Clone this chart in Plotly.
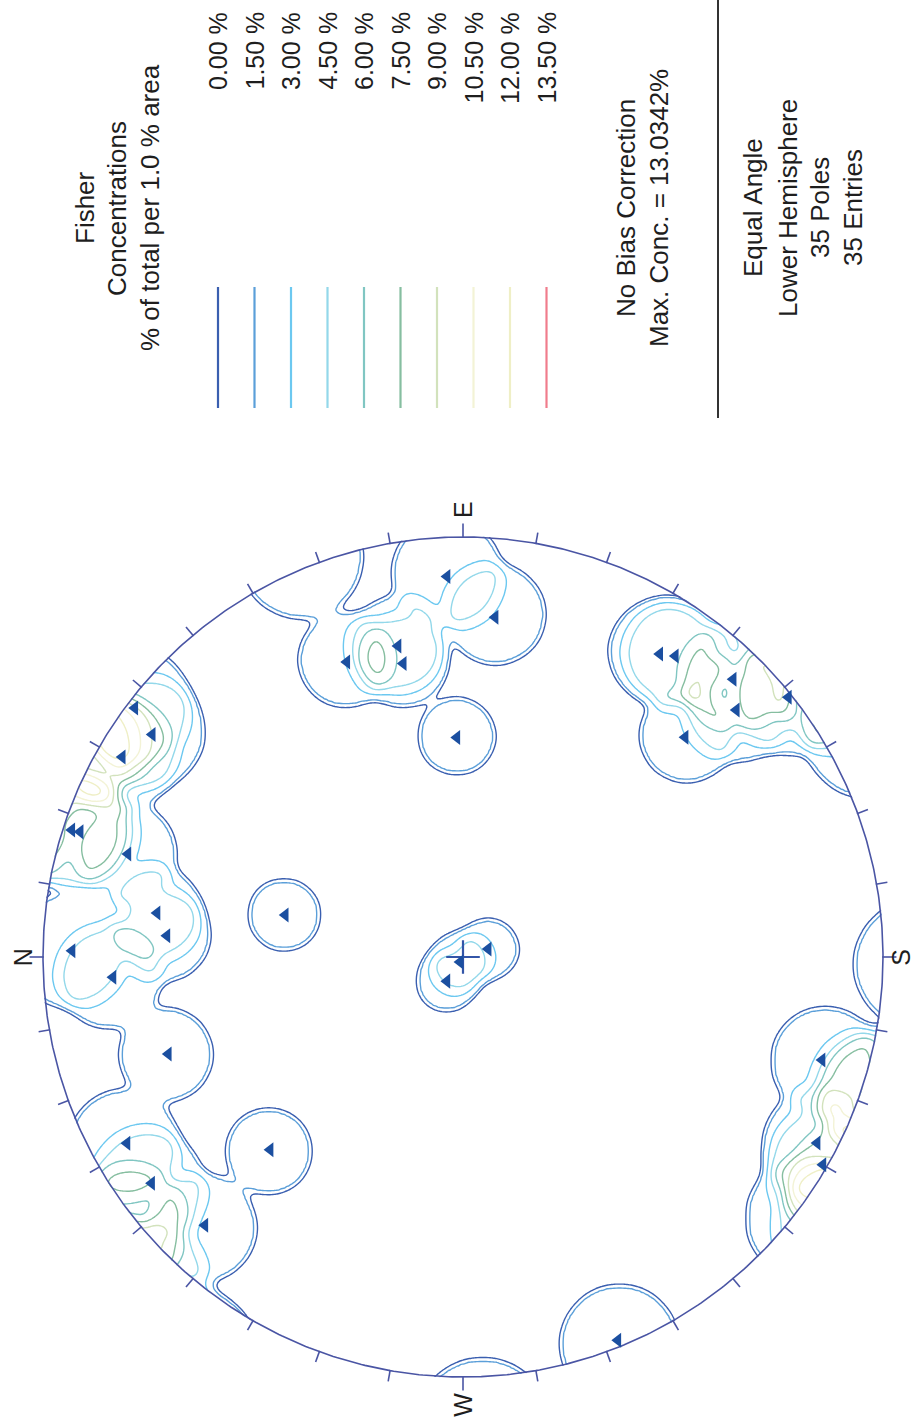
import numpy as np
import plotly.graph_objects as go

# ---------------------------------------------------------------------------
# Pole data (trend / plunge, degrees) - 35 poles, lower hemisphere
# ---------------------------------------------------------------------------
pole_trend = [87.6, 95.4, 78.2, 68.5, 78.5, 88.4, 37.2, 35.6, 30.4, 18.0,
              18.1, 17.1, 8.2, 4.1, 0.9, 13.3, 356.7, 341.8, 331.0, 324.0,
              313.9, 315.0, 303.7, 162.4, 300.0, 123.0, 125.2, 134.2, 137.9, 135.3,
              141.4, 196.0, 207.7, 210.0, 248.0]
pole_plunge = [5.6, 11.8, 15.8, 15.9, 19.0, 34.8, 1.1, 5.4, 3.5, 1.2,
               2.4, 10.3, 17.3, 19.5, 4.1, 43.0, 10.3, 17.1, 5.1, 5.0,
               6.9, 24.0, 82.1, 82.8, 88.4, 8.6, 7.5, 4.6, 7.5, 16.7,
               0.5, 6.7, 2.8, 0.6, 0.9]

MAX_CONC = 13.0342        # peak concentration, % of total per 1 % area

# Contour levels (% of total per 1.0 % area) and their line colours
levels = [0.0, 1.5, 3.0, 4.5, 6.0, 7.5, 9.0, 10.5, 12.0, 13.5]
level_labels = ["0.00 %", "1.50 %", "3.00 %", "4.50 %", "6.00 %",
                "7.50 %", "9.00 %", "10.50 %", "12.00 %", "13.50 %"]
level_colors = ["#3a5fb0", "#5b9fd9", "#6cc8f0", "#93d8ea", "#80c6c2",
                "#86bea0", "#d2e2bc", "#f3f3d6", "#efefc6", "#f07c8c"]

cardinal_labels = ["N", "E", "S", "W"]
cardinal_azimuths = [0, 90, 180, 270]

info_lines = ["No Bias Correction", "Max. Conc. = %.4f%%" % MAX_CONC]
net_lines = ["Equal Angle", "Lower Hemisphere", "%d Poles" % len(pole_trend),
             "%d Entries" % len(pole_trend)]
title_lines = ["Fisher", "Concentrations", "% of total per 1.0 % area"]

# Fisher counting settings: weights inside a 1 % area cone around every pole
KAPPA = 10.0
CONE_DEG = np.degrees(np.arccos(1.0 - 0.01))   # cone covering 1 % of the hemisphere
GRID_STEP = 0.005         # node spacing of the concentration grid (net units)
SMOOTH = 0.016            # gaussian smoothing of the grid (net units)
ZERO_LINE = 1.0           # value traced by the outermost (0.00 %) line

# Page geometry (pixels) - the net is shown turned so that north is on the left
W_PX, H_PX = 924, 1426
CX, CY, RAD = 463.0, 957.0, 420.0

INK = "#1e1e1e"
NET_COLOR = "#4a55a4"
POLE_COLOR = "#1b4fa0"
FONT = "Liberation Sans, Arial, sans-serif"


def to_net(trend, plunge):
    """Equal-angle (stereographic) lower-hemisphere projection -> (north, east)."""
    t = np.radians(np.asarray(trend, float))
    r = np.tan(np.radians(90.0 - np.asarray(plunge, float)) / 2.0)
    return r * np.cos(t), r * np.sin(t)


def to_vec(trend, plunge):
    t = np.radians(np.asarray(trend, float))
    p = np.radians(np.asarray(plunge, float))
    return np.stack([np.cos(p) * np.cos(t), np.cos(p) * np.sin(t), np.sin(p)], axis=-1)


def gauss_smooth(a, sigma_nodes):
    half = int(np.ceil(4 * sigma_nodes))
    k = np.exp(-0.5 * (np.arange(-half, half + 1) / sigma_nodes) ** 2)
    k /= k.sum()
    a = np.apply_along_axis(lambda v: np.convolve(v, k, mode="same"), 0, a)
    return np.apply_along_axis(lambda v: np.convolve(v, k, mode="same"), 1, a)


# ---------------------------------------------------------------------------
# Fisher concentration grid (% of total per 1 % of hemisphere area)
# ---------------------------------------------------------------------------
EDGE = 1.10
g = np.arange(-EDGE, EDGE + 1e-9, GRID_STEP)
GN, GE = np.meshgrid(g, g)            # rows follow east (y), columns north (x)
gr = np.hypot(GN, GE)
g_trend = np.degrees(np.arctan2(GE, GN))
g_plunge = 90.0 - 2.0 * np.degrees(np.arctan(gr))   # negative past the primitive
gv = to_vec(g_trend, g_plunge).reshape(-1, 3)

pv = to_vec(pole_trend, pole_plunge)
cosang = np.abs(gv @ pv.T)             # axial data
c0 = np.cos(np.radians(CONE_DEG))
u0 = KAPPA * (1.0 - c0)
cone_mean = (1.0 - np.exp(-u0)) / u0   # mean Fisher weight over the cone
w = np.where(cosang >= c0, np.exp(KAPPA * (cosang - 1.0)) / cone_mean, 0.0)
dens = 100.0 * w.sum(axis=1).reshape(GN.shape) / len(pole_trend)
dens = gauss_smooth(dens, SMOOTH / GRID_STEP)
dens *= MAX_CONC / dens[gr <= 1.0].max()

# uniform 1.5 % steps, with the lowest line placed at ZERO_LINE
step = levels[1] - levels[0]
z = np.where(dens >= step, dens, (dens - ZERO_LINE) / (step - ZERO_LINE) * step)
z = np.where(gr <= 1.04, z, np.nan)

fig = go.Figure()

fig.add_trace(go.Contour(
    x=g, y=g, z=z,
    contours=dict(start=levels[0], end=levels[-1], size=step, coloring="lines"),
    colorscale=[[i / (len(level_colors) - 1), c] for i, c in enumerate(level_colors)],
    line=dict(width=1.4, smoothing=0.5),
    showscale=False, connectgaps=False, hoverinfo="skip",
))

# White ring hiding the contour overshoot past the primitive
a_out = np.linspace(0, 2 * np.pi, 361)
ring_r0, ring_r1 = 1.002, 1.12
fig.add_trace(go.Scatter(
    x=np.concatenate([ring_r1 * np.cos(a_out), ring_r0 * np.cos(a_out[::-1])]),
    y=np.concatenate([ring_r1 * np.sin(a_out), ring_r0 * np.sin(a_out[::-1])]),
    mode="lines", fill="toself", fillcolor="white", line=dict(width=0),
    hoverinfo="skip",
))

# Primitive circle
az = np.linspace(0, 360, 721)
fig.add_trace(go.Scatter(
    x=np.cos(np.radians(az)), y=np.sin(np.radians(az)), mode="lines",
    line=dict(color=NET_COLOR, width=1.6), hoverinfo="skip",
))

# Azimuth ticks every 10 degrees
tx, ty = [], []
for a in range(0, 360, 10):
    ln = 1.032 if a % 90 == 0 else 1.026
    ar = np.radians(a)
    tx += [np.cos(ar) * 0.998, np.cos(ar) * ln, None]
    ty += [np.sin(ar) * 0.998, np.sin(ar) * ln, None]
fig.add_trace(go.Scatter(x=tx, y=ty, mode="lines",
                         line=dict(color=NET_COLOR, width=1.6), hoverinfo="skip"))

# Centre cross
fig.add_trace(go.Scatter(x=[0], y=[0], mode="markers",
                         marker=dict(symbol="cross-thin", size=24,
                                     line=dict(color="#3355a8", width=2.2)),
                         hoverinfo="skip"))

# Poles
pn, pe = to_net(pole_trend, pole_plunge)
fig.add_trace(go.Scatter(x=pn, y=pe, mode="markers",
                         marker=dict(symbol="triangle-left", size=13, color=POLE_COLOR,
                                     line=dict(width=0)),
                         hoverinfo="skip"))

# Cardinal labels just outside the primitive
label_offset = {0: 1.047, 90: 1.064, 180: 1.042, 270: 1.066}
for lab, a in zip(cardinal_labels, cardinal_azimuths):
    ar = np.radians(a)
    off = label_offset[a]
    fig.add_annotation(x=np.cos(ar) * off, y=np.sin(ar) * off, text=lab,
                       showarrow=False, textangle=-90,
                       font=dict(family=FONT, size=25, color=INK),
                       xanchor="center", yanchor="middle")


def px_x(v):
    return v / W_PX


def px_y(v):
    return 1.0 - v / H_PX


def side_text(text, x, y, size=26, yanchor="middle"):
    fig.add_annotation(xref="paper", yref="paper", x=px_x(x), y=px_y(y), text=text,
                       showarrow=False, textangle=-90,
                       font=dict(family=FONT, size=size, color=INK),
                       xanchor="center", yanchor=yanchor)


# Legend heading
for txt, x in zip(title_lines, [85, 117, 150]):
    side_text(txt, x, 208)

# Legend entries: coloured line + level label
shapes = []
for i, (lab, col) in enumerate(zip(level_labels, level_colors)):
    x = 218 + i * 36.5
    side_text(lab, x, 10, size=25, yanchor="top")
    shapes.append(dict(type="line", xref="paper", yref="paper",
                       x0=px_x(x), x1=px_x(x), y0=px_y(287), y1=px_y(408),
                       line=dict(color=col, width=2.2)))

for txt, x in zip(info_lines, [626, 659]):
    side_text(txt, x, 208)

# Separator
shapes.append(dict(type="line", xref="paper", yref="paper",
                   x0=px_x(718), x1=px_x(718), y0=px_y(0), y1=px_y(418),
                   line=dict(color="#333333", width=2)))

for txt, x in zip(net_lines, [753, 788, 820, 853]):
    side_text(txt, x, 208)

x_left = (CX - 0) / RAD
x_right = (CX - W_PX) / RAD
y_top = (CY - 0) / RAD
y_bottom = (CY - H_PX) / RAD

fig.update_layout(
    width=W_PX, height=H_PX,
    margin=dict(l=0, r=0, t=0, b=0),
    paper_bgcolor="white", plot_bgcolor="white",
    showlegend=False,
    shapes=shapes,
    xaxis=dict(range=[x_left, x_right], visible=False, fixedrange=True),
    yaxis=dict(range=[y_bottom, y_top], visible=False, fixedrange=True),
)

fig.write_html("out.html")
